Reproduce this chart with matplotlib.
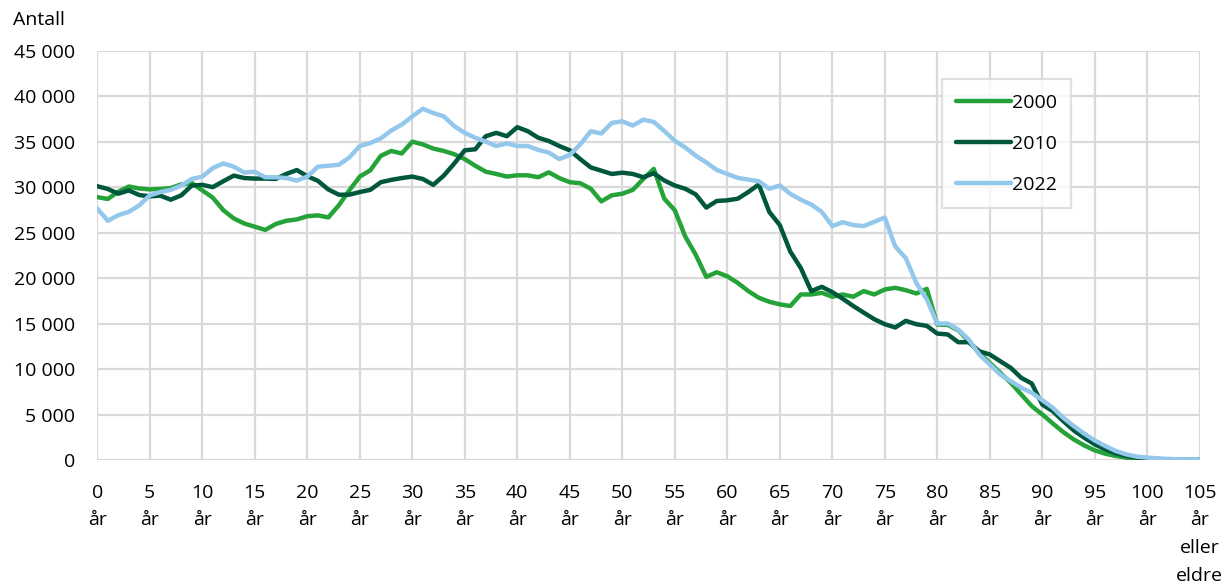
import matplotlib
matplotlib.use("Agg")
import matplotlib.pyplot as plt
from matplotlib.ticker import FixedLocator, FuncFormatter

plt.rcParams['font.family'] = ['Open Sans', 'DejaVu Sans']

ages = list(range(0, 106))

y2000 = [28900, 28700, 29500, 30070, 29850, 29750, 29800, 29900, 30300, 30450,
         29650, 28840, 27470, 26560, 26000, 25650, 25300, 25950, 26300, 26450,
         26800, 26900, 26670, 28000, 29640, 31160, 31850, 33440, 33980, 33700,
         35000, 34700, 34240, 33980, 33620, 33080, 32350, 31700, 31450, 31160,
         31300, 31300, 31090, 31630, 31000, 30540, 30430, 29820, 28440, 29100,
         29280, 29700, 30900, 32000, 28730, 27460, 24560, 22560, 20130, 20640,
         20200, 19470, 18570, 17840, 17400, 17110, 16930, 18200, 18200, 18380,
         17950, 18200, 17950, 18570, 18200, 18750, 18930, 18670, 18310, 18820,
         14900, 14850, 14270, 13060, 11780, 10680, 9580, 8490, 7200, 5920,
         5010, 4020, 3070, 2260, 1600, 1060, 690, 440, 260, 150,
         70, 40, 20, 10, 5, 3]

y2010 = [30100, 29800, 29280, 29640, 29130, 28990, 29060, 28620, 29100, 30180,
         30250, 30000, 30650, 31270, 31000, 30940, 30940, 30900, 31450, 31880,
         31200, 30700, 29750, 29170, 29170, 29460, 29700, 30540, 30800, 31000,
         31160, 30900, 30250, 31270, 32600, 34050, 34160, 35600, 35970, 35600,
         36590, 36150, 35430, 35070, 34520, 34050, 33080, 32170, 31810, 31450,
         31590, 31450, 31090, 31520, 30730, 30180, 29820, 29200, 27750, 28480,
         28550, 28730, 29460, 30290, 27280, 25830, 22920, 21110, 18570, 19040,
         18460, 17730, 16930, 16200, 15480, 14930, 14570, 15300, 14930, 14750,
         13900, 13800, 12950, 12950, 11960, 11600, 10860, 10130, 9030, 8410,
         6100, 5370, 4280, 3250, 2450, 1720, 1170, 730, 440, 260,
         150, 80, 40, 20, 10, 5]

y2022 = [27650, 26300, 26920, 27280, 28000, 29100, 29460, 29700, 30180, 30900,
         31160, 32100, 32600, 32250, 31600, 31700, 31090, 31090, 31000, 30720,
         31160, 32250, 32350, 32460, 33260, 34520, 34850, 35360, 36230, 36880,
         37780, 38620, 38150, 37780, 36700, 35970, 35430, 35000, 34520, 34810,
         34520, 34520, 34090, 33800, 33080, 33550, 34700, 36150, 35900, 37060,
         37240, 36770, 37420, 37170, 36170, 35100, 34360, 33450, 32720, 31890,
         31450, 31020, 30830, 30650, 29820, 30180, 29270, 28620, 28080, 27280,
         25720, 26150, 25830, 25720, 26190, 26660, 23470, 22200, 19470, 17660,
         15000, 15000, 14340, 13240, 11600, 10500, 9400, 8670, 7940, 7390,
         6580, 5740, 4640, 3730, 2890, 2150, 1540, 990, 620, 370,
         260, 180, 120, 80, 50, 40]

series = [("2000", y2000, "#26a338"), ("2010", y2010, "#00573d"), ("2022", y2022, "#93c7ec")]

xtick_pos = list(range(0, 106, 5))
xtick_labels = [f"{v}\når" for v in xtick_pos[:-1]] + ["105\når\neller\neldre"]
ytick_pos = list(range(0, 45001, 5000))

fig = plt.figure(figsize=(12.27, 5.85), dpi=100)
ax = fig.add_axes([0.0793, 0.2137, 0.9778 - 0.0793, 0.9133 - 0.2137])

for name, vals, col in series:
    ax.plot(ages, vals, color=col, lw=3.2, label=name,
            solid_capstyle='round', solid_joinstyle='round', zorder=3)

ax.set_xlim(0, 105)
ax.set_ylim(0, 45000)
ax.xaxis.set_major_locator(FixedLocator(xtick_pos))
ax.set_xticklabels(xtick_labels, fontsize=14, linespacing=1.7, va='top')
ax.yaxis.set_major_locator(FixedLocator(ytick_pos))
ax.yaxis.set_major_formatter(FuncFormatter(lambda v, p: f"{int(v):,}".replace(",", " ")))
ax.tick_params(axis='y', labelsize=14, length=0, pad=16)
ax.tick_params(axis='x', length=0, pad=17)
ax.grid(True, color="#d9d9d9", lw=1.6, zorder=0)
ax.set_axisbelow(True)
for s in ax.spines.values():
    s.set_visible(False)

fig.text(13 / 1227, 1 - 20 / 585, "Antall", fontsize=14, ha='left', va='center')

leg = ax.legend(loc='upper left', bbox_to_anchor=(941.7 / 1227, 1 - 79.3 / 585),
                bbox_transform=fig.transFigure, borderaxespad=0, fontsize=14,
                frameon=True, fancybox=False, handlelength=2.8, handletextpad=0.05,
                labelspacing=1.18, borderpad=0.75)
leg.get_frame().set_edgecolor("#d9d9d9")
leg.get_frame().set_linewidth(1.6)
for h in leg.get_lines():
    h.set_solid_capstyle('round')

fig.savefig("out.png", dpi=100)
